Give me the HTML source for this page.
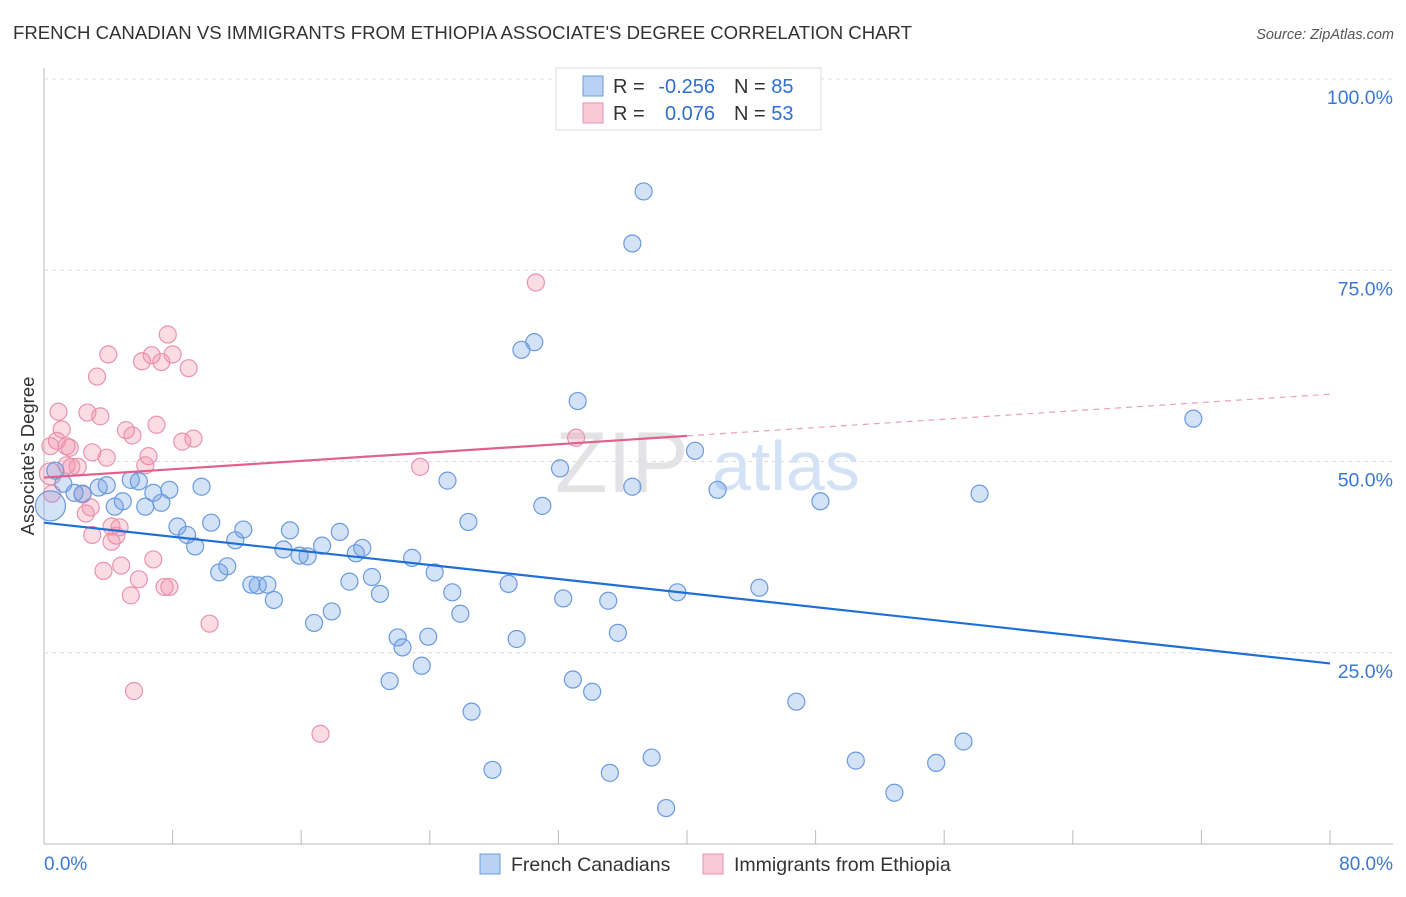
<!DOCTYPE html>
<html><head><meta charset="utf-8"><style>
body{margin:0;background:#fff;font-family:"Liberation Sans",sans-serif;}
svg text{font-family:"Liberation Sans",sans-serif;}
</style></head><body>
<svg id="chart" width="1406" height="892">
<text x="13" y="39" font-size="18.5" fill="#333" textLength="899" lengthAdjust="spacingAndGlyphs">FRENCH CANADIAN VS IMMIGRANTS FROM ETHIOPIA ASSOCIATE'S DEGREE CORRELATION CHART</text>
<text x="1394" y="39" font-size="14.5" fill="#555" font-style="italic" text-anchor="end">Source: ZipAtlas.com</text>
<text x="0" y="0" transform="translate(34,456) rotate(-90)" font-size="18.5" fill="#333" text-anchor="middle">Associate's Degree</text>
<g id="grid"></g>
<text x="555" y="492" font-size="86" fill="#e3e3e6" font-family="Liberation Serif">ZIP</text>
<text x="712" y="490" font-size="70" fill="#d3e2f5">atlas</text>
<g id="pts"></g>
<g id="lines"></g>
<g>
<rect x="556" y="68" width="265" height="62" fill="#fff" stroke="#ddd"/>
<rect x="583" y="76" width="20" height="20" fill="#b9d1f3" stroke="#6a9ade"/>
<rect x="583" y="103" width="20" height="20" fill="#f8c8d6" stroke="#eb92ad"/>
<text x="613" y="93" font-size="20" fill="#333">R =</text>
<text x="715" y="93" font-size="20" fill="#2f6fd1" text-anchor="end">-0.256</text>
<text x="734" y="93" font-size="20" fill="#333">N = <tspan fill="#2f6fd1">85</tspan></text>
<text x="613" y="120" font-size="20" fill="#333">R =</text>
<text x="715" y="120" font-size="20" fill="#2f6fd1" text-anchor="end">0.076</text>
<text x="734" y="120" font-size="20" fill="#333">N = <tspan fill="#2f6fd1">53</tspan></text>
</g>
<g>
<rect x="480" y="854" width="20" height="20" fill="#b9d1f3" stroke="#6a9ade"/>
<text x="511" y="871" font-size="19.5" fill="#333">French Canadians</text>
<rect x="703" y="854" width="20" height="20" fill="#f8c8d6" stroke="#eb92ad"/>
<text x="734" y="871" font-size="19.5" fill="#333">Immigrants from Ethiopia</text>
</g>
</svg>
<script>
const yTicks=[25,50,75,100];
const yTickLabels=["25.0%","50.0%","75.0%","100.0%"];
const xTickLabels=["0.0%","80.0%"];
const blueX=[37.3,36.6,29.7,30.5,33.2,71.5,40.5,32.1,25.1,36.6,41.9,58.2,48.3,31.0,26.4,0.7,1.2,1.9,2.4,3.4,3.9,5.4,5.9,4.4,4.9,6.3,6.8,7.3,7.8,9.8,8.3,8.9,9.4,10.4,10.9,11.4,11.9,12.4,12.9,13.3,13.9,14.3,14.9,15.3,15.9,16.4,16.8,17.3,17.9,18.4,19.0,19.4,19.8,20.4,20.9,21.5,22.0,22.3,22.9,23.5,23.9,24.3,25.4,25.9,26.6,27.9,28.9,29.4,32.3,32.9,34.1,35.1,35.2,35.7,37.8,38.7,39.4,44.5,46.8,50.5,52.9,55.5,57.2,0.4];
const blueY=[85.3,78.5,64.6,65.6,57.9,55.6,51.4,49.1,47.5,46.7,46.3,45.8,44.8,44.2,42.1,48.8,47.1,45.9,45.8,46.6,46.9,47.6,47.4,44.1,44.8,44.1,45.9,44.6,46.3,46.7,41.5,40.4,38.9,42.0,35.5,36.3,39.7,41.1,33.9,33.8,33.9,31.9,38.5,41.0,37.7,37.6,28.9,39.0,30.4,40.8,34.3,38.0,38.7,34.9,32.7,21.3,27.0,25.7,37.4,23.3,27.1,35.5,32.9,30.1,17.3,9.7,34.0,26.8,32.1,21.5,19.9,31.8,9.3,27.6,11.3,4.7,32.9,33.5,18.6,10.9,6.7,10.6,13.4,44.2];
const pinkX=[30.6,7.7,4.0,6.7,6.1,8.0,7.3,9.0,3.3,0.9,2.7,3.5,7.0,1.1,5.1,5.5,9.3,8.6,0.4,0.8,1.4,1.6,33.1,3.0,3.9,6.5,6.3,1.7,1.4,2.1,23.4,0.5,2.4,2.9,2.6,3.0,4.2,4.7,4.5,4.2,6.8,3.7,4.8,5.9,7.5,7.8,5.4,10.3,5.6,17.2,0.4];
const pinkY=[73.4,66.6,64.0,63.9,63.1,64.0,63.0,62.2,61.1,56.5,56.4,55.9,54.8,54.2,54.1,53.4,53.0,52.6,52.0,52.7,52.0,51.8,53.1,51.2,50.5,50.7,49.5,49.3,49.5,49.3,49.3,45.8,45.7,44.0,43.2,40.4,41.5,41.4,40.3,39.5,37.2,35.7,36.4,34.6,33.6,33.6,32.5,28.8,20.0,14.4,48.4];
const blueTrend=[42.0,23.6];
const pinkTrend=[47.9,58.8];
const pinkSolidEnd=40;
const X0=44,X1=1330,Y0=844,Y100=79;
const sx=v=>X0+(X1-X0)*v/80;
const sy=v=>Y0-(Y0-Y100)*v/100;
const NS="http://www.w3.org/2000/svg";
function mk(t,a,p){const e=document.createElementNS(NS,t);for(const k in a)e.setAttribute(k,a[k]);p.appendChild(e);return e;}
const grid=document.getElementById('grid');
mk('line',{x1:44,y1:68,x2:44,y2:844,stroke:'#bbb'},grid);
mk('line',{x1:44,y1:844,x2:1393,y2:844,stroke:'#bbb'},grid);
yTicks.forEach((t,i)=>{
 const g=mk('line',{x1:44,y1:sy(t),x2:1393,y2:sy(t),stroke:'#ddd','stroke-dasharray':'4,4'},grid);
 
 
 const l=mk('text',{x:1393,y:sy(t)+25,'font-size':19.5,fill:'#3a78d4','text-anchor':'end'},grid);
 l.textContent=yTickLabels[i];
 
 
});
for(let i=0;i<=10;i++){const tk=mk('line',{x1:sx(i*8),y1:830,x2:sx(i*8),y2:844,stroke:'#bbb'},grid);
 
 }
const xl0=mk('text',{x:44,y:870,'font-size':19,fill:'#3a78d4'},grid);xl0.textContent=xTickLabels[0];


const xl1=mk('text',{x:1393,y:870,'font-size':19,fill:'#3a78d4','text-anchor':'end'},grid);xl1.textContent=xTickLabels[1];


const pts=document.getElementById('pts');
pinkX.forEach((x,i)=>{const c=mk('circle',{cx:sx(x),cy:sy(pinkY[i]),r:i==pinkX.length-1?11:8.5,fill:'rgba(242,140,170,0.3)',stroke:'#e993ad','stroke-width':1.2},pts);
 
 });
blueX.forEach((x,i)=>{const c=mk('circle',{cx:sx(x),cy:sy(blueY[i]),r:i==blueX.length-1?15:8.5,fill:'rgba(110,160,230,0.3)',stroke:'#6a9ade','stroke-width':1.2},pts);
 
 });
const lines=document.getElementById('lines');
const bl=mk('line',{x1:sx(0),y1:sy(blueTrend[0]),x2:sx(80),y2:sy(blueTrend[1]),stroke:'#1f6fd6','stroke-width':2.2},lines);


const pm=pinkTrend[0]+(pinkTrend[1]-pinkTrend[0])*pinkSolidEnd/80;
const pl=mk('line',{x1:sx(0),y1:sy(pinkTrend[0]),x2:sx(pinkSolidEnd),y2:sy(pm),stroke:'#e0618a','stroke-width':2.2},lines);


const pd=mk('line',{x1:sx(pinkSolidEnd),y1:sy(pm),x2:sx(80),y2:sy(pinkTrend[1]),stroke:'#eba0b8','stroke-width':1.2,'stroke-dasharray':'6,5'},lines);


</script>
</body></html>
